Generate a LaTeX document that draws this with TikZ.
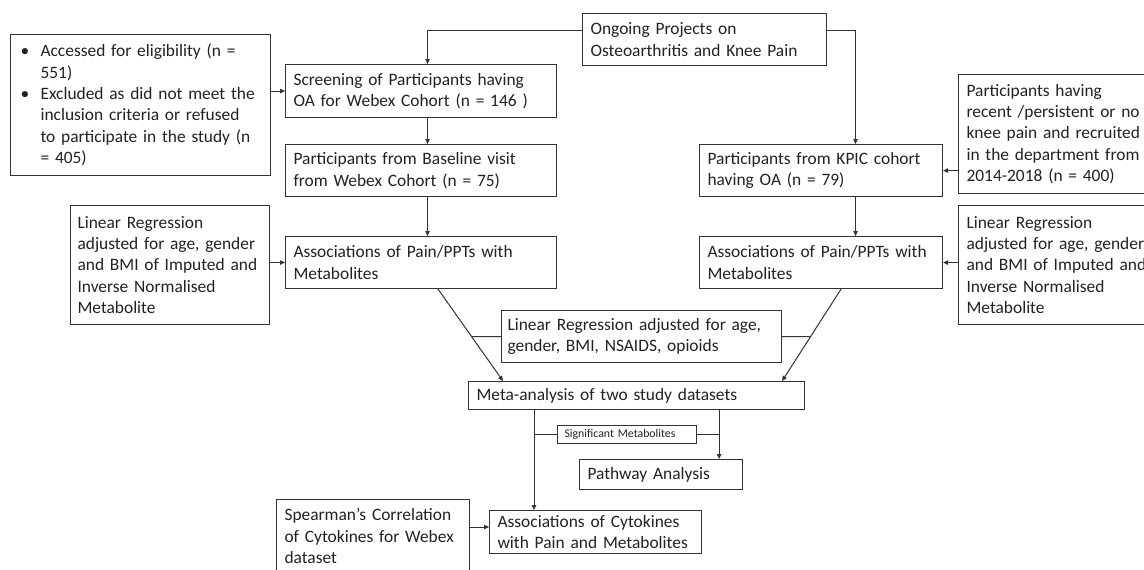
\documentclass[tikz,border=0pt]{standalone}
\usepackage{fontspec}
\setmainfont{Carlito}
\usetikzlibrary{arrows.meta}
\definecolor{linec}{HTML}{333333}
\definecolor{textc}{HTML}{222222}
\newcommand{\mainsz}{\fontsize{17.4}{21.3}\selectfont}
\newcommand{\smallsz}{\fontsize{11.8}{13}\selectfont}
\newcommand{\bul}{\makebox[20pt][l]{\textbullet}}
\begin{document}
\begin{tikzpicture}[x=1pt,y=-1pt,
  box/.style={draw=linec, line width=1.1pt, anchor=north west, align=left,
    text=textc, font=\mainsz, inner xsep=8pt, inner ysep=2pt},
  arr/.style={draw=linec, line width=1pt, -{Triangle[length=5pt,width=4.5pt]}},
  ln/.style={draw=linec, line width=1pt}]
\useasboundingbox (0,0) rectangle (1144,570);
\fill[white] (0,0) rectangle (1144,570);
\begin{scope}
\clip (0,0) rectangle (1144,570);
% left column
\node[box, inner xsep=10pt, minimum width=260pt, minimum height=141pt, text width=240pt] (acc) at (10,34)
 {\bul Accessed for eligibility (n =\\ \hspace*{20pt}551)\\ \bul Excluded as did not meet the\\ \hspace*{20pt}inclusion criteria or refused\\ \hspace*{20pt}to participate in the study (n\\ \hspace*{20pt}= 405)};
\node[box, minimum width=271pt, minimum height=53pt, text width=255pt] (scr) at (285,64)
 {Screening of Participants having\\ OA for Webex Cohort (n = 146 )};
\node[box, minimum width=271pt, minimum height=52pt, text width=255pt] (base) at (285,144)
 {Participants from Baseline visit\\ from Webex Cohort (n = 75)};
\node[box, minimum width=271pt, minimum height=52pt, text width=255pt] (asl) at (285,236)
 {Associations of Pain/PPTs with\\ Metabolites};
\node[box, inner xsep=7pt, minimum width=199pt, minimum height=119pt, text width=185pt] (lrl) at (70,205)
 {Linear Regression\\ adjusted for age, gender\\ and BMI of Imputed and\\ Inverse Normalised\\ Metabolite};
% right column
\node[box, minimum width=244pt, minimum height=52pt, text width=228pt] (ong) at (582,13)
 {Ongoing Projects on\\ Osteoarthritis and Knee Pain};
\node[box, minimum width=243pt, minimum height=52pt, text width=227pt] (kpic) at (699,144)
 {Participants from KPIC cohort\\ having OA (n = 79)};
\node[box, minimum width=243pt, minimum height=52pt, text width=227pt] (asr) at (699,236)
 {Associations of Pain/PPTs with\\ Metabolites};
\node[box, minimum width=240pt, minimum height=119pt, text width=224pt] (prt) at (958,74)
 {Participants having\\ recent /persistent or no\\ knee pain and recruited\\ in the department from\\ 2014-2018 (n = 400)};
\node[box, minimum width=240pt, minimum height=119pt, text width=224pt] (lrr) at (958,205)
 {Linear Regression\\ adjusted for age, gender\\ and BMI of Imputed and\\ Inverse Normalised\\ Metabolite};
% middle
\node[box, inner xsep=6pt, minimum width=280pt, minimum height=52pt, text width=268pt] (lrm) at (501,310)
 {Linear Regression adjusted for age,\\ gender, BMI, NSAIDS, opioids};
\node[box, minimum width=336pt, minimum height=28pt, text width=320pt] (meta) at (468,381)
 {Meta-analysis of two study datasets};
\node[box, font=\smallsz, inner xsep=7pt, inner ysep=1pt, minimum width=139pt, minimum height=18pt, text width=125pt] (sig) at (557,425)
 {Significant Metabolites};
\node[box, minimum width=163pt, minimum height=30pt, text width=147pt] (path) at (579,459)
 {Pathway Analysis};
\node[box, minimum width=212pt, minimum height=43pt, text width=196pt] (cyt) at (489,510)
 {Associations of Cytokines\\ with Pain and Metabolites};
\node[box, minimum width=193pt, minimum height=73pt, text width=177pt] (spe) at (276,499)
 {Spearman’s Correlation\\ of Cytokines for Webex\\ dataset};
% connectors
\draw[arr] ([yshift=9pt]ong.west) -| ([xshift=6.5pt]scr.north);
\draw[arr] ([yshift=9pt]ong.east) -| ([xshift=34.5pt]kpic.north);
\draw[arr] (acc.east |- scr.west) -- (scr.west);
\draw[arr] ([xshift=6.5pt]scr.south) -- ([xshift=6.5pt]base.north);
\draw[arr] ([xshift=6.5pt]base.south) -- ([xshift=6.5pt]asl.north);
\draw[arr] (lrl.east |- asl.west) -- (asl.west);
\draw[arr] (prt.west |- kpic.east) -- (kpic.east);
\draw[arr] ([xshift=34.5pt]kpic.south) -- ([xshift=34.5pt]asr.north);
\draw[arr] (lrr.west |- asr.east) -- (asr.east);
\coordinate (dl1) at ([xshift=17pt]asl.south);
\coordinate (dl2) at ([xshift=35pt]meta.north west);
\coordinate (dr1) at ([xshift=20pt]asr.south);
\coordinate (dr2) at ([xshift=-23pt]meta.north east);
\draw[arr] (dl1) -- (dl2);
\draw[arr] (dr1) -- (dr2);
\draw[ln] (lrm.west) -- (intersection of dl1--dl2 and lrm.west--lrm.east);
\draw[ln] (lrm.east) -- (intersection of dr1--dr2 and lrm.west--lrm.east);
\coordinate (m1) at ([xshift=66pt]meta.south west);
\coordinate (m2) at ([xshift=-86pt]meta.south east);
\draw[arr] (m1) -- (m1 |- cyt.north);
\draw[arr] (m2) -- (m2 |- path.north);
\draw[ln] (sig.west) -- (sig.west -| m1);
\draw[ln] (sig.east) -- (sig.east -| m2);
\draw[arr] ([yshift=5pt]spe.east |- cyt.west) -- ([yshift=5pt]cyt.west);
\end{scope}
\end{tikzpicture}
\end{document}
